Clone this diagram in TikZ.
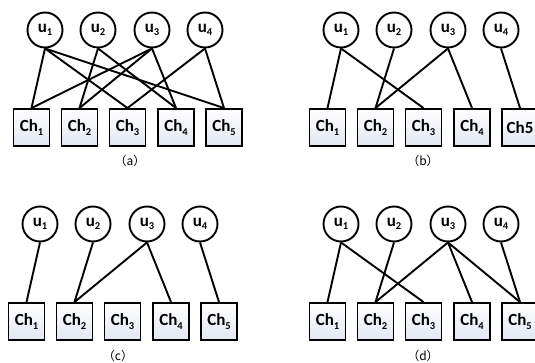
\documentclass[tikz,border=0pt]{standalone}
\usepackage{fontspec}
\setmainfont{Carlito}
\newfontfamily\cjk{Noto Sans CJK SC}
\definecolor{chfill}{RGB}{226,231,242}
\newcommand\sbs[1]{\raisebox{-0.45ex}{\fontsize{10.5}{10.5}\selectfont #1}}
\tikzset{
  user/.style={circle,draw,line width=1.9pt,minimum size=35pt,inner sep=0pt,fill=white,
    font=\fontsize{17}{17}\selectfont\bfseries},
  chan/.style={rectangle,draw,line width=1.9pt,minimum width=36pt,minimum height=37pt,inner sep=0pt,
    top color=white,bottom color=chfill,font=\fontsize{17}{17}\selectfont\bfseries},
  edgeline/.style={line width=1.9pt},
  captext/.style={font=\cjk\fontsize{12}{12}\selectfont}
}
\newcommand\panelnodes[4]{%
  \begin{scope}[shift={(#2,#3)}]
    \foreach \i/\x in {1/45,2/98,3/152,4/205}
      \node[user] (#1u\i) at (\x,30) {u\sbs{\i}};
    \foreach \i/\x in {1/31.5,2/79.5,3/127.5,4/176}
      \node[chan] (#1c\i) at (\x,127.5) {Ch\sbs{\i}};
    \node[chan] (#1c5) at (224,127.5) {#4};
  \end{scope}}
\begin{document}
\begin{tikzpicture}[x=1pt,y=-1pt]
  \clip (0,0) rectangle (535,363);
  % (a)
  \panelnodes{a}{0}{0}{Ch\sbs{5}}
  \foreach \u/\c in {1/1,1/3,1/5,2/2,2/4,3/1,3/2,3/4,4/3,4/5}
    \draw[edgeline] (au\u.south) -- (ac\c.north);
  \node[captext] (capa) at (130,161) {（a）};
  % (b)
  \panelnodes{b}{296}{0}{Ch5}
  \foreach \u/\c in {1/1,1/3,2/2,3/2,3/4,4/5}
    \draw[edgeline] (bu\u.south) -- (bc\c.north);
  \node[captext] (capb) at (423,161) {（b）};
  % (c)
  \panelnodes{c}{-5}{194}{Ch\sbs{5}}
  \foreach \u/\c in {1/1,2/2,3/2,3/4,4/5}
    \draw[edgeline] (cu\u.south) -- (cc\c.north);
  \node[captext] (capc) at (118,356) {（c）};
  % (d)
  \panelnodes{d}{296}{194}{Ch\sbs{5}}
  \foreach \u/\c in {1/1,1/3,2/2,3/2,3/4,3/5,4/5}
    \draw[edgeline] (du\u.south) -- (dc\c.north);
  \node[captext] (capd) at (423,356) {（d）};
\end{tikzpicture}
\end{document}
